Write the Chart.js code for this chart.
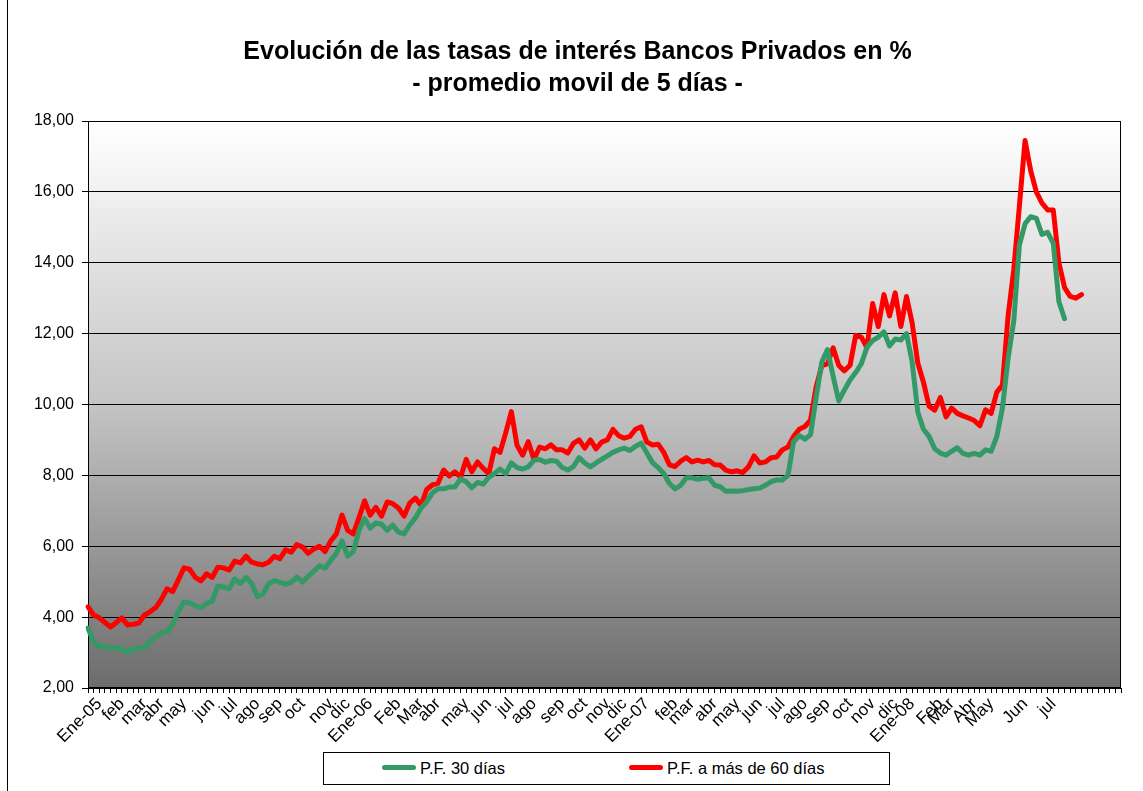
<!DOCTYPE html>
<html>
<head>
<meta charset="utf-8">
<script src="https://cdn.jsdelivr.net/npm/chart.js@4"></script>
<style>
  body { margin: 0; background: #fff; font-family: "Liberation Sans", Arial, sans-serif; }
  #wrap { position: absolute; left: 7px; top: 0; width: 1136px; height: 791px; border-left: 1px solid #000; }
  #legend { position: absolute; left: 323px; top: 752px; width: 565px; height: 31px; border: 1px solid #000;
            background: #fff; font-size: 16.5px; z-index: 2; }
  .item { position: absolute; top: 6px; white-space: nowrap; }
  .swatch { display: inline-block; width: 34px; height: 5px; border-radius: 3px; vertical-align: middle; margin-right: 4px; position: relative; top: -2px; }
</style>
</head>
<body>
<div id="wrap"><canvas id="chart" width="1135" height="791"></canvas></div>
<div id="legend">
  <div class="item" style="left:58px"><span class="swatch" style="background:#339966"></span>P.F. 30 días</div>
  <div class="item" style="left:305px"><span class="swatch" style="background:#ff0000"></span>P.F. a más de 60 días</div>
</div>
<script>
// month labels and the weekly point where each label sits
const monthNames = ["Ene-05","feb","mar","abr","may","jun","jul","ago","sep","oct","nov","dic",
  "Ene-06","Feb","Mar","abr","may","jun","jul","ago","sep","oct","nov","dic",
  "Ene-07","feb","mar","abr","may","jun","jul","ago","sep","oct","nov","dic",
  "Ene-08","Feb","Mar","Abr","May","Jun","jul"];
const monthIdx = [2,6,10,13,17,22,26,30,34,38,43,46,
  50,55,59,62,67,71,75,79,84,88,92,95,
  99,104,107,111,115,119,123,127,131,135,139,143,
  146,151,153,157,160,166,171];
const nPoints = 184;

// P.F. 30 dias (roughly weekly readings)
const pf30 = [3.69,3.30,3.18,3.16,3.13,3.12,3.10,3.00,3.12,3.10,
  3.15,3.30,3.45,3.55,3.58,3.80,4.15,4.43,4.40,4.32,
  4.27,4.38,4.45,4.88,4.85,4.80,5.08,4.95,5.12,4.95,
  4.58,4.65,4.95,5.03,4.98,4.93,4.98,5.13,4.99,5.15,
  5.30,5.45,5.38,5.60,5.80,6.15,5.72,5.85,6.45,6.78,
  6.51,6.66,6.62,6.45,6.60,6.40,6.35,6.60,6.80,7.08,
  7.25,7.50,7.62,7.62,7.67,7.67,7.90,7.82,7.65,7.80,
  7.75,7.95,8.05,8.18,8.05,8.35,8.22,8.18,8.24,8.43,
  8.45,8.37,8.42,8.40,8.22,8.15,8.25,8.50,8.35,8.24,
  8.35,8.45,8.55,8.65,8.72,8.77,8.70,8.82,8.91,8.63,
  8.36,8.22,8.05,7.77,7.62,7.72,7.93,7.93,7.89,7.92,
  7.93,7.72,7.68,7.55,7.56,7.55,7.57,7.60,7.62,7.64,
  7.72,7.82,7.87,7.87,8.00,8.95,9.12,9.02,9.15,10.20,
  11.20,11.55,10.80,10.10,10.41,10.69,10.90,11.15,11.62,11.80,
  11.90,12.05,11.65,11.85,11.82,12.00,11.20,9.79,9.30,9.10,
  8.75,8.63,8.57,8.68,8.78,8.62,8.57,8.62,8.57,8.72,
  8.68,9.10,9.90,11.30,12.35,14.50,15.10,15.30,15.25,14.80,
  14.86,14.55,12.90,12.42];

// P.F. a mas de 60 dias
const pf60 = [4.29,4.06,3.98,3.85,3.72,3.85,3.98,3.78,3.80,3.83,
  4.06,4.15,4.27,4.50,4.80,4.72,5.05,5.39,5.35,5.12,
  5.02,5.22,5.12,5.41,5.39,5.33,5.58,5.53,5.72,5.55,
  5.50,5.48,5.55,5.72,5.65,5.90,5.83,6.05,5.98,5.80,
  5.92,6.00,5.85,6.15,6.35,6.88,6.45,6.35,6.80,7.28,
  6.88,7.10,6.85,7.25,7.20,7.08,6.85,7.22,7.36,7.15,
  7.60,7.73,7.78,8.15,7.98,8.10,7.95,8.45,8.10,8.38,
  8.20,8.05,8.75,8.65,9.20,9.80,8.85,8.57,8.95,8.45,
  8.80,8.75,8.86,8.72,8.72,8.63,8.90,9.00,8.77,9.00,
  8.75,8.94,9.00,9.30,9.12,9.05,9.10,9.30,9.37,8.94,
  8.86,8.88,8.65,8.30,8.25,8.40,8.50,8.38,8.43,8.38,
  8.42,8.30,8.29,8.15,8.10,8.13,8.08,8.24,8.55,8.35,
  8.38,8.50,8.52,8.72,8.80,9.10,9.30,9.38,9.56,10.50,
  11.10,11.15,11.60,11.10,10.95,11.11,11.95,11.90,11.60,12.85,
  12.20,13.10,12.50,13.15,12.20,13.05,12.30,11.17,10.63,9.95,
  9.84,10.20,9.65,9.90,9.75,9.68,9.62,9.55,9.40,9.85,
  9.75,10.35,10.55,12.50,13.80,15.60,17.45,16.60,16.00,15.68,
  15.49,15.49,14.00,13.30,13.05,13.00,13.10];

const labels = [];
for (let i = 0; i < nPoints; i++) labels.push("");
monthIdx.forEach((idx, k) => { labels[idx] = monthNames[k]; });

const plotDecor = {
  id: "plotDecor",
  beforeDraw(chart) {
    const { ctx, chartArea: a } = chart;
    const g = ctx.createLinearGradient(0, a.top, 0, a.bottom);
    g.addColorStop(0, "#ffffff");
    g.addColorStop(0.5, "#c4c4c4");
    g.addColorStop(1, "#6c6c6c");
    ctx.save();
    ctx.fillStyle = g;
    ctx.fillRect(a.left, a.top, a.right - a.left, a.bottom - a.top);
    ctx.restore();
  },
  beforeDatasetsDraw(chart) {
    const { ctx, chartArea: a } = chart;
    ctx.save();
    ctx.strokeStyle = "#000";
    ctx.lineWidth = 1;
    ctx.strokeRect(a.left + 0.5, a.top + 0.5, a.right - a.left - 1, a.bottom - a.top - 1);
    ctx.restore();
  }
};

const ctx = document.getElementById("chart").getContext("2d");
new Chart(ctx, {
  type: "line",
  data: {
    labels,
    datasets: [
      { label: "P.F. 30 días", data: pf30, borderColor: "#339966", backgroundColor: "#339966",
        borderWidth: 5, pointRadius: 0, tension: 0, borderJoinStyle: "round", borderCapStyle: "round" },
      { label: "P.F. a más de 60 días", data: pf60, borderColor: "#ff0000", backgroundColor: "#ff0000",
        borderWidth: 5, pointRadius: 0, tension: 0, borderJoinStyle: "round", borderCapStyle: "round" }
    ]
  },
  options: {
    responsive: false,
    animation: false,
    layout: { padding: { right: 22, left: 26, top: 0, bottom: 0 } },
    plugins: {
      legend: { display: false },
      tooltip: { enabled: false },
      title: {
        display: true,
        text: ["Evolución de las tasas de interés Bancos Privados en %", "- promedio movil de 5 días -"],
        color: "#000",
        font: { family: "'Liberation Sans', Arial, sans-serif", size: 25, weight: "bold", lineHeight: 1.28 },
        padding: { top: 36, bottom: 21 }
      }
    },
    scales: {
      x: {
        offset: false,
        grid: { display: true, drawOnChartArea: false, drawTicks: true, tickLength: 5, color: "#000", lineWidth: 1 },
        border: { color: "#000" },
        ticks: {
          autoSkip: false, maxRotation: 45, minRotation: 45, color: "#000", padding: 1,
          font: { family: "'Liberation Sans', Arial, sans-serif", size: 17 }
        },
        afterFit(axis) { axis.height = 103; }
      },
      y: {
        min: 2, max: 18,
        grid: { color: "#000", lineWidth: 1, tickLength: 6 },
        border: { color: "#000" },
        ticks: {
          stepSize: 2, color: "#000", padding: 8,
          font: { family: "'Liberation Sans', Arial, sans-serif", size: 16 },
          callback: v => v.toFixed(2).replace(".", ",")
        },
        afterFit(axis) { axis.width = 54; }
      }
    }
  },
  plugins: [plotDecor]
});
</script>
</body>
</html>
